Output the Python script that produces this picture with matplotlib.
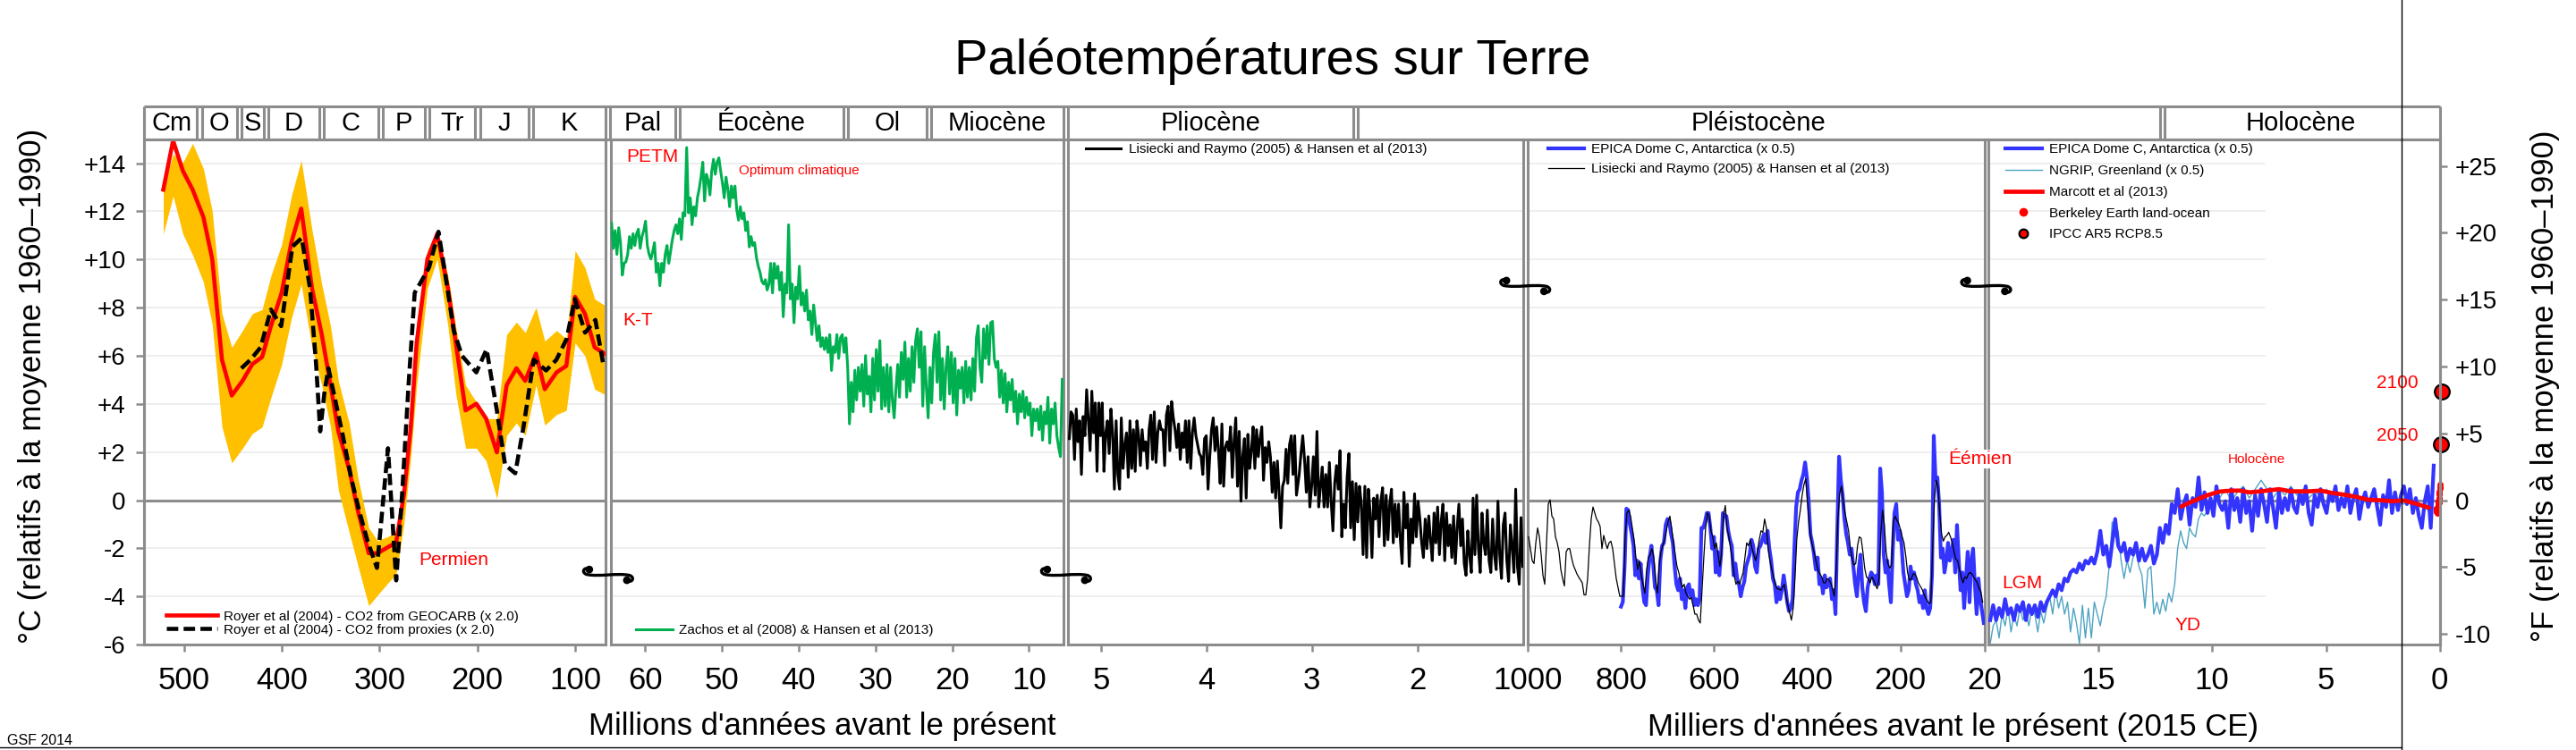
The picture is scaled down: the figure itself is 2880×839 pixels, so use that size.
import numpy as np
import matplotlib
matplotlib.use("Agg")
import matplotlib.pyplot as plt
from matplotlib.lines import Line2D
from matplotlib.path import Path
from matplotlib.patches import PathPatch, Circle
from matplotlib.transforms import Affine2D

plt.rcParams['font.family'] = ['Liberation Sans', 'DejaVu Sans']

# ---------------------------------------------------------------- data
# Panel 1 : Royer et al (2004), Ma
royer_t = [521, 511, 501, 491, 480, 471, 461, 451, 440, 430, 420, 411, 400, 390, 380, 369,
           359, 350, 342, 331, 322, 311, 302, 291, 283, 275, 268, 262, 251, 241, 230, 222,
           212, 201, 191, 180, 170, 160, 151, 140, 131, 119, 109, 100, 90, 80, 70]
royer_geocarb = [12.90, 14.94, 13.68, 12.90, 11.76, 10.02, 5.83, 4.35, 4.96, 5.65,
                 5.95, 7.23, 8.62, 10.72, 12.11, 8.80, 6.88, 4.78, 2.86, 1.29,
                 -0.45, -2.20, -2.20, -1.94, -1.76, 0.24, 3.04, 6.53, 10.02, 11.06,
                 8.80, 6.53, 3.73, 4.01, 3.39, 1.99, 4.78, 5.48, 4.96, 6.09,
                 4.61, 5.31, 5.58, 8.45, 7.75, 6.35, 6.09]
royer_hi = [12.90, 14.38, 14.03, 14.82, 13.77, 12.02, 7.75, 6.35, 7.05, 7.75,
            7.92, 9.32, 10.63, 12.64, 14.12, 11.24, 8.97, 7.23, 4.96, 3.21,
            0.94, -1.15, -1.68, -1.50, -1.33, 0.94, 3.91, 7.40, 10.37, 11.24,
            9.32, 7.23, 4.78, 4.08, 3.39, 3.39, 6.88, 7.40, 6.96, 8.01,
            6.61, 7.05, 6.70, 10.37, 9.67, 8.36, 8.10]
royer_lo = [11.06, 12.64, 11.06, 10.19, 9.06, 7.31, 3.04, 1.55, 2.16, 2.77,
            3.04, 4.26, 5.65, 7.57, 8.97, 6.35, 4.78, 3.04, 0.42, -1.33,
            -2.72, -4.38, -3.94, -3.42, -3.07, -0.98, 1.82, 4.78, 8.80, 10.02,
            7.23, 4.43, 2.16, 2.16, 1.64, 0.07, 2.69, 3.21, 2.69, 4.78,
            3.12, 3.56, 3.73, 6.53, 6.00, 4.61, 4.40]
proxy_t = [441.2, 432, 421.5, 411, 400.5, 389, 379.5, 371, 364.8, 360.6, 356.4, 352.2,
           337.5, 329, 320.7, 312.3, 302.6, 291.3, 282.9, 276.6, 270.3, 264, 257.7, 249.3,
           239.7, 232.5, 224.1, 215.7, 201, 190.5, 180, 171.6, 161.2, 152.8, 142.3, 129.7,
           119.2, 108.7, 100.3, 89.8, 79.3, 70.9]
proxy_T = [5.48, 5.83, 6.35, 7.92, 7.23, 10.54, 10.89, 8.80, 5.65, 2.86, 4.43, 5.48,
           2.69, 0.94, -0.45, -1.68, -2.81, 2.16, -3.33, 0.42, 4.78, 8.62, 9.06, 9.67,
           11.15, 9.32, 7.05, 6.00, 5.31, 6.27, 3.73, 1.47, 1.12, 3.04, 5.83, 5.39,
           5.83, 6.70, 8.36, 6.96, 7.49, 5.57]

# Panel 2 : Zachos et al (2008), readings at regular steps (Ma)
zachos_a_t = np.linspace(64.39, 34.56, 129)
zachos_a_T = [11.51, 10.46, 11.20, 10.21, 11.32, 10.70, 9.35, 9.84, 9.90, 10.21,
              10.95, 10.46, 11.07, 10.58, 11.07, 11.26, 10.46, 10.95, 11.20, 11.59,
              10.58, 10.21, 10.02, 10.33, 10.70, 9.47, 9.84, 8.91, 9.84, 9.47,
              10.21, 10.58, 9.84, 10.33, 10.83, 11.20, 11.44, 11.07, 11.69, 10.83,
              11.94, 11.81, 14.65, 11.94, 12.56, 11.44, 12.19, 11.81, 12.56, 12.93,
              13.42, 14.04, 12.43, 13.54, 13.30, 12.68, 13.67, 14.16, 13.54, 14.04,
              14.22, 13.67, 13.17, 12.56, 13.42, 12.93, 12.19, 13.05, 12.56, 13.05,
              12.06, 11.63, 12.19, 11.69, 11.94, 11.20, 11.57, 10.52, 10.95, 10.58,
              10.70, 10.09, 9.72, 9.47, 9.10, 8.98, 9.16, 8.73, 8.98, 9.84,
              8.61, 9.84, 9.22, 9.72, 8.73, 9.47, 7.62, 8.98, 8.61, 11.44,
              8.36, 8.98, 7.37, 8.85, 8.36, 9.72, 8.11, 8.61, 7.86, 8.73,
              7.49, 7.86, 6.88, 8.11, 7.37, 6.63, 7.25, 6.38, 6.75, 6.26,
              6.75, 6.14, 6.88, 5.39, 6.38, 6.14, 6.88, 5.89, 6.75]
zachos_b_t = np.linspace(34.32, 5.66, 124)
zachos_b_T = [6.88, 6.14, 6.75, 5.52, 3.17, 4.90, 3.67, 5.40, 4.16, 5.52,
              4.53, 5.64, 3.91, 6.01, 4.41, 5.15, 3.67, 5.89, 4.16, 6.26,
              4.53, 6.63, 3.79, 5.52, 3.91, 5.64, 3.67, 5.52, 4.16, 3.42,
              4.65, 5.64, 4.28, 6.14, 5.02, 6.57, 4.28, 5.89, 4.53, 6.38,
              4.90, 6.63, 7.12, 5.52, 7.00, 3.91, 6.38, 4.65, 3.42, 5.52,
              4.04, 6.14, 6.88, 4.90, 7.00, 4.16, 5.89, 3.79, 5.52, 6.38,
              4.41, 6.14, 4.04, 5.89, 3.54, 5.40, 4.65, 5.52, 4.04, 5.77,
              4.28, 5.52, 4.16, 5.89, 4.53, 6.75, 7.25, 5.52, 4.90, 7.12,
              5.89, 7.25, 5.64, 7.37, 7.43, 5.89, 5.52, 5.77, 4.28, 5.40,
              4.04, 5.27, 3.67, 4.90, 4.16, 5.02, 3.67, 4.53, 3.17, 4.41,
              3.67, 4.53, 3.42, 4.28, 3.54, 4.04, 2.68, 3.79, 3.30, 3.79,
              2.93, 3.91, 2.49, 3.67, 3.17, 4.28, 2.37, 3.79, 3.17, 4.04,
              2.68, 2.19, 1.81, 5.02]

# Panel 3 : Lisiecki & Raymo (2005), Ma
lr_a_t = np.linspace(5.30, 3.146, 132)
lr_a_T = [2.56, 3.67, 3.54, 1.69, 3.79, 2.43, 3.30, 1.07, 3.48, 2.68,
          4.59, 3.30, 2.06, 4.53, 2.80, 4.04, 1.20, 4.04, 2.68, 4.04,
          1.20, 2.80, 3.30, 1.94, 3.79, 2.80, 0.46, 3.30, 1.07, 0.46,
          3.42, 1.32, 2.31, 2.80, 0.95, 3.30, 1.32, 2.93, 1.20, 3.30,
          2.68, 1.44, 2.93, 2.06, 2.43, 1.32, 2.93, 3.54, 1.69, 3.67,
          1.57, 2.80, 3.30, 2.93, 2.93, 1.44, 3.54, 3.91, 2.06, 4.10,
          3.42, 2.93, 2.19, 3.17, 1.69, 2.80, 2.19, 3.30, 1.57, 3.30,
          1.32, 2.80, 3.42, 2.68, 2.31, 1.94, 1.81, 1.07, 2.56, 2.68,
          0.46, 1.81, 2.93, 3.42, 2.06, 3.05, 2.06, 0.70, 3.17, 0.58,
          2.19, 2.43, 2.06, 3.05, 0.95, 2.43, 3.42, 0.58, 2.86, -0.04,
          1.81, 2.56, 0.09, 2.74, 1.32, 2.06, 3.05, 1.32, 2.93, 1.81,
          2.56, 3.05, 0.83, 2.19, 1.57, 2.43, 1.81, 0.33, 1.57, 0.09,
          1.63, 0.33, -1.15, 0.58, 0.83, 2.12, 0.70, 2.31, 2.68, 1.07,
          2.68, 0.21]
lr_b_t = np.linspace(3.120, 1.000, 127)
lr_b_T = [1.07, 1.94, 2.68, 1.69, 0.33, 1.81, -0.28, 0.58, 1.81, 0.21,
          2.86, -0.28, 0.58, 1.38, -0.28, 1.07, -0.28, 1.57, -0.04, -1.27,
          0.70, 1.44, 0.46, 2.06, -1.52, -0.16, -1.15, 0.95, 1.94, -1.15,
          0.77, -1.64, 0.70, -0.90, 0.58, -0.16, -2.26, 0.58, -2.38, 0.46,
          -0.53, -2.38, 0.09, -0.78, 0.21, -1.52, -0.04, 0.52, -1.89, 0.21,
          -1.64, -0.16, 0.46, -1.77, -0.16, -1.52, -0.16, -1.64, -2.63, 0.33,
          -1.15, -0.16, -2.75, -0.78, -1.77, 0.27, -1.52, -0.04, -0.78, -1.77,
          -2.38, -0.78, -2.01, -0.65, -1.64, -2.51, -0.53, -1.77, -0.28, -2.26,
          -0.90, -0.16, -2.51, -0.53, -1.89, -1.02, -2.38, -0.65, -2.63, -1.15,
          -0.16, -1.89, -0.78, -2.63, -3.12, -1.27, -2.26, -3.00, 0.09, -2.26,
          0.21, -2.01, -3.00, -0.53, -1.77, -2.26, -0.41, -2.51, -3.00, -0.78,
          -2.26, -2.88, -0.04, -2.26, -3.25, -1.02, -0.53, -2.51, -3.37, -1.02,
          -1.89, -3.00, 0.46, -2.75, -3.49, -0.72, -2.75]

# Panel 4 : kyr before present
lr4_a_t = np.linspace(997.8, 510.7, 128)
lr4_a_T = [-1.52, -2.01, -2.51, -2.63, -1.77, -1.15, -1.52, -2.26, -3.12, -3.49,
           -1.77, -0.16, 0.02, -0.66, -0.78, -1.52, -1.77, -2.14, -2.88, -3.25,
           -3.56, -2.14, -2.01, -2.01, -2.38, -2.69, -2.88, -3.06, -3.19, -3.31,
           -3.43, -3.93, -3.93, -3.25, -1.89, -0.78, -0.28, -0.53, -0.78, -0.90,
           -1.09, -2.01, -1.46, -1.77, -2.01, -1.77, -1.70, -2.01, -2.63, -3.25,
           -3.62, -3.99, -3.99, -3.99, -1.52, -0.53, -0.41, -0.66, -1.15, -1.64,
           -2.38, -2.88, -2.51, -3.12, -3.49, -3.86, -2.88, -2.38, -2.26, -2.01,
           -2.38, -3.25, -3.86, -2.75, -2.14, -1.89, -1.64, -1.27, -0.90, -0.66,
           -1.15, -1.77, -2.26, -2.75, -3.00, -3.37, -3.62, -3.49, -3.86, -3.99,
           -4.11, -4.05, -4.36, -4.73, -4.73, -4.98, -5.10, -3.74, -2.38, -1.15,
           -0.53, -0.66, -1.27, -1.52, -2.01, -1.77, -2.26, -2.75, -2.14, -0.66,
           -0.22, -1.15, -1.52, -2.01, -2.51, -3.12, -3.49, -3.37, -3.49, -3.25,
           -3.00, -2.38, -1.77, -1.89, -1.64, -2.01, -2.26, -2.51]
lr4_b_t = np.linspace(506.85, 23.6, 127)
lr4_b_T = [-2.14, -1.64, -1.27, -1.33, -0.78, -1.15, -2.01, -2.51, -2.88, -3.19,
           -3.49, -3.68, -3.68, -3.74, -3.62, -3.49, -3.99, -4.36, -4.67, -4.98,
           -4.48, -3.25, -1.64, -0.90, -0.41, 0.21, 0.64, 0.89, -0.04, -1.03,
           -1.64, -1.95, -2.26, -2.63, -2.94, -3.06, -3.19, -3.43, -3.43, -3.25,
           -3.31, -3.43, -3.68, -3.99, -3.00, -0.78, 0.27, 0.58, -0.04, -0.53,
           -0.90, -1.27, -2.01, -2.45, -2.69, -2.63, -1.89, -1.52, -1.58, -2.14,
           -2.82, -3.19, -3.25, -3.43, -3.19, -3.31, -3.49, -3.68, -3.25, -1.40,
           -0.41, -1.03, -2.14, -2.63, -2.82, -2.69, -0.90, -0.66, -0.84, -0.96,
           -1.21, -1.52, -1.77, -2.32, -3.00, -3.31, -3.31, -3.06, -3.06, -3.19,
           -3.43, -3.56, -3.68, -3.87, -4.05, -4.17, -4.30, -4.24, -2.01, -0.04,
           0.83, 0.58, -0.53, -1.40, -1.70, -1.52, -1.46, -1.33, -1.52, -1.77,
           -2.14, -2.45, -2.51, -2.88, -3.19, -3.43, -3.19, -3.25, -3.06, -3.00,
           -3.06, -3.19, -3.31, -3.43, -3.68, -3.80, -4.24]
epica_a_t = np.linspace(799.6, 508.2, 77)
epica_a_T = [-4.42, -4.23, -2.75, -0.35, -0.41, -1.02, -1.40, -1.89, -3.12, -2.51,
             -3.25, -2.63, -3.62, -4.23, -4.36, -3.12, -2.38, -1.89, -2.63, -3.62,
             -3.74, -4.36, -2.51, -1.89, -1.77, -1.02, -0.78, -0.90, -1.40, -1.77,
             -2.75, -3.49, -3.74, -3.25, -4.11, -3.74, -4.48, -3.62, -3.49, -3.99,
             -3.74, -4.36, -4.11, -4.36, -4.11, -1.15, -1.15, -0.90, -0.53, -0.53,
             -1.15, -2.01, -1.52, -3.00, -2.14, -3.12, -2.26, -0.53, -0.66, -0.66,
             -1.27, -1.64, -1.89, -3.12, -2.63, -3.25, -3.49, -3.99, -3.62, -3.37,
             -2.75, -2.51, -2.26, -1.64, -1.89, -2.75, -3.00]
epica_b_t = np.linspace(504.3, 21.1, 127)
epica_b_T = [-2.01, -1.89, -1.64, -1.40, -1.77, -1.27, -2.01, -2.51, -3.25, -3.49,
             -4.24, -3.62, -4.11, -3.74, -3.12, -3.62, -4.24, -4.61, -4.48, -4.11,
             -2.01, -0.28, 0.33, 0.46, 0.83, 1.07, 1.57, 0.95, -0.04, -1.40,
             -1.77, -2.26, -2.88, -2.38, -3.49, -3.25, -3.87, -3.12, -3.62, -3.49,
             -3.25, -4.11, -3.74, -4.73, -1.27, 1.81, 0.83, 0.21, -0.78, -1.40,
             -1.77, -2.26, -2.01, -2.75, -3.49, -3.99, -2.88, -2.26, -3.62, -4.24,
             -4.61, -3.62, -3.25, -3.00, -3.12, -3.49, -3.12, -3.49, 1.32, 0.33,
             -2.26, -3.00, -2.51, -3.49, -4.24, -2.14, -0.53, -0.16, -1.64, -1.27,
             -1.89, -3.00, -3.49, -3.99, -3.74, -2.75, -3.25, -3.00, -3.49, -3.74,
             -4.24, -3.99, -4.48, -3.74, -4.48, -4.73, -4.48, -3.12, 2.68, 0.83,
             0.95, -0.16, -2.38, -2.01, -3.00, -2.51, -1.77, -2.51, -2.14, -1.64,
             -3.00, -1.03, -2.51, -3.74, -3.00, -4.48, -3.25, -2.14, -4.24, -2.51,
             -2.01, -3.49, -4.73, -3.25, -4.11, -4.61, -5.10]

# Panel 5 : kyr before present (2015 CE)
epica5_t = np.linspace(19.75, 0.27, 150)
epica5_T = [-4.98, -4.36, -4.98, -4.48, -4.85, -4.11, -4.73, -4.48, -4.98, -4.36,
            -4.61, -4.23, -4.98, -4.36, -4.73, -4.36, -4.85, -4.23, -4.61, -4.23,
            -3.99, -3.74, -3.99, -3.49, -3.74, -3.25, -3.37, -3.00, -2.88, -3.00,
            -2.63, -2.88, -2.51, -2.63, -2.38, -2.63, -2.14, -1.27, -2.26, -1.89,
            -2.75, -1.77, -0.78, -1.89, -2.14, -1.77, -2.51, -2.01, -2.26, -1.77,
            -2.51, -2.01, -2.51, -2.26, -1.89, -2.63, -2.26, -1.15, -1.77, -1.02,
            -1.40, -0.16, -0.53, 0.46, -0.78, -0.16, 0.21, -1.02, 0.09, -0.28,
            0.95, -0.41, 0.33, -0.53, 0.09, -0.65, 0.58, -0.16, -0.41, -0.04,
            -1.15, 0.46, -0.41, 0.09, -0.90, 0.46, -0.53, -0.04, -1.27, 0.21,
            -0.65, 0.46, -0.16, -0.90, 0.46, -0.28, -1.15, 0.33, -0.53, 0.09,
            -0.41, 0.46, -0.28, -0.53, 0.33, -0.16, 0.58, -0.53, -1.02, 0.21,
            -0.28, 0.46, -0.16, -0.53, 0.33, -0.04, 0.58, -0.41, 0.09, -0.28,
            0.58, -0.53, 0.09, 0.46, -0.78, -0.04, 0.33, -0.28, 0.09, 0.46,
            -0.28, -1.02, 0.21, -0.28, 0.83, -0.53, 0.33, -0.41, 0.21, 0.58,
            -0.16, 0.46, -0.53, 0.09, -0.65, -1.15, -0.04, 0.58, -1.15, 1.44]
ngrip_a_t = np.linspace(19.75, 10.21, 74)
ngrip_a_T = [-5.96, -5.22, -4.98, -5.72, -4.73, -5.22, -4.48, -5.47, -4.73, -5.22,
             -4.48, -4.98, -4.61, -5.22, -4.48, -4.73, -5.47, -4.61, -5.10, -4.48,
             -3.99, -4.73, -3.74, -4.48, -3.99, -4.73, -4.23, -5.47, -4.48, -5.10,
             -5.96, -4.36, -5.72, -4.48, -5.72, -4.23, -4.73, -5.22, -4.48, -3.99,
             -2.75, -0.90, -1.52, -1.27, -2.51, -3.25, -2.51, -3.00, -2.38, -2.14,
             -2.75, -3.12, -4.48, -2.88, -2.75, -4.73, -4.23, -4.73, -4.11, -4.61,
             -3.86, -4.23, -3.49, -2.01, -1.27, -1.77, -2.01, -1.15, -1.40, -1.52,
             -0.78, -0.53, -0.65, -0.41]
ngrip_b_t = np.linspace(9.94, 0.53, 37)
ngrip_b_T = [-0.16, 0.09, 0.46, -0.04, 0.33, 0.58, 0.09, 0.46, 0.83, 0.46,
             0.09, 0.46, 0.21, 0.58, 0.21, 0.46, 0.09, 0.33, 0.21, 0.46,
             0.09, 0.33, -0.04, 0.21, 0.09, -0.16, 0.09, -0.04, -0.16, 0.09,
             -0.16, -0.04, -0.16, 0.09, -0.28, -0.16, -0.41]
marcott_t = [11.36, 10.99, 10.60, 10.21, 9.68, 9.16, 8.77, 8.38, 7.85, 7.07, 6.55, 5.76,
             5.24, 4.72, 4.19, 3.67, 3.15, 2.62, 2.10, 1.58, 1.06, 0.66, 0.47]
marcott_T = [-0.26, -0.10, 0.06, 0.21, 0.36, 0.40, 0.40, 0.33, 0.37, 0.46, 0.37, 0.37,
             0.40, 0.30, 0.23, 0.14, 0.02, 0.00, -0.04, -0.01, -0.14, -0.26, -0.31]
berkeley_year = [1850, 1855, 1860, 1865, 1870, 1875, 1880, 1885, 1890, 1895, 1900, 1905,
                 1910, 1915, 1920, 1925, 1930, 1935, 1940, 1945, 1950, 1955, 1960, 1965,
                 1970, 1975, 1980, 1985, 1990, 1995, 2000, 2005, 2010, 2015]
berkeley_T = [-0.45, -0.40, -0.45, -0.35, -0.35, -0.40, -0.35, -0.45, -0.50, -0.40,
              -0.30, -0.45, -0.55, -0.35, -0.35, -0.30, -0.25, -0.25, -0.05, -0.05,
              -0.20, -0.15, -0.05, -0.10, -0.05, -0.10, 0.10, 0.05, 0.25, 0.30,
              0.35, 0.50, 0.55, 0.65]
ipcc_year = [2050, 2100]
ipcc_T = [2.34, 4.52]
ipcc_labels = ['2050', '2100']

# geological header
era_names = ['Cm', 'O', 'S', 'D', 'C', 'P', 'Tr', 'J', 'K', 'Pal', 'Éocène', 'Ol',
             'Miocène', 'Pliocène', 'Pléistocène', 'Holocène']
era_bounds_ma = [541, 484, 443.7, 416, 359.2, 299, 251, 199.6, 145.5, 65.5, 55.8, 33.9,
                 23.03, 5.332, 2.588, 0.0122, 0]

ticks = [[500, 400, 300, 200, 100], [60, 50, 40, 30, 20, 10], [5, 4, 3, 2],
         [1000, 800, 600, 400, 200, 20], [15, 10, 5, 0]]
yticks_c = [-6, -4, -2, 0, 2, 4, 6, 8, 10, 12, 14]
yticks_f = [-10, -5, 0, 5, 10, 15, 20, 25]

# ---------------------------------------------------------------- layout
W, H, DPI = 2880, 839, 100
fig = plt.figure(figsize=(W / DPI, H / DPI), dpi=DPI)
PLOT_TOP, PLOT_BOT, HEAD_TOP = 155.6, 721.2, 118.9
panels_px = [(160.7, 676.9), (682.8, 1189.4), (1194.3, 1702.5), (1707.9, 2218.5), (2222.5, 2727.8)]
xlims = [(541, 69), (64.5, 5.45), (5.31, 1.0), (1000, 20), (19.85, 0)]
units = [1, 1, 1, 1000, 1000]          # Ma -> panel unit
GRAY = '#8c8c8c'
GRID = '#ebebeb'
RED = '#ff0000'
BLUE = '#3434ff'
GREEN = '#00b050'
ORANGE = '#ffc000'
TEAL = '#4ea3c2'

axes = []
for i, ((l, r), xl) in enumerate(zip(panels_px, xlims)):
    ax = fig.add_axes([l / W, 1 - PLOT_BOT / H, (r - l) / W, (PLOT_BOT - PLOT_TOP) / H])
    ax.set_facecolor('none')
    ax.set_xlim(*xl)
    ax.set_ylim(-6, 15)
    for s in ax.spines.values():
        s.set_color(GRAY)
        s.set_linewidth(2.2)
    ax.set_xticks(ticks[i])
    ax.set_xticklabels([str(v) for v in ticks[i]])
    ax.tick_params(axis='x', direction='out', length=6, width=1.8, color=GRAY,
                   labelsize=25, pad=11)
    ax.set_yticks([])
    xmax = 0.6125 if i == 4 else 1.0
    for g in yticks_c:
        if g not in (0, -6):
            ax.axhline(g, color=GRID, lw=1.2, zorder=0, xmax=xmax)
    ax.axhline(0, color=GRAY, lw=2.2, zorder=1)
    axes.append(ax)
ax1, ax2, ax3, ax4, ax5 = axes

ax1.set_yticks(yticks_c)
ax1.set_yticklabels([('+%d' % v) if v > 0 else str(v) for v in yticks_c])
ax1.tick_params(axis='y', direction='out', length=6.5, width=1.8, color=GRAY,
                labelsize=20, pad=8)

axr = ax5.twinx()
axr.set_facecolor('none')
axr.set_ylim(-6 * 1.8, 15 * 1.8)
axr.set_yticks(yticks_f)
axr.set_yticklabels([('+%d' % v) if v > 0 else str(v) for v in yticks_f])
axr.tick_params(axis='y', direction='out', length=6, width=1.8, color=GRAY,
                labelsize=20, pad=6)
for s in ('left', 'top', 'bottom'):
    axr.spines[s].set_visible(False)
axr.spines['right'].set_color(GRAY)
axr.spines['right'].set_linewidth(2.2)

# ---------------------------------------------------------------- series
ax1.fill_between(royer_t, royer_lo, royer_hi, color=ORANGE, lw=0, zorder=2)
ax1.plot(royer_t, royer_geocarb, color=RED, lw=3.3, zorder=3, solid_joinstyle='round')
ax1.plot(proxy_t, proxy_T, color='black', lw=3.3, dashes=(2.8, 1.3), zorder=4)

ax2.plot(np.concatenate([zachos_a_t, zachos_b_t]), zachos_a_T + zachos_b_T,
         color=GREEN, lw=2.2, zorder=3)
ax3.plot(np.concatenate([lr_a_t, lr_b_t]), lr_a_T + lr_b_T, color='black', lw=2.2, zorder=3)

ax4.plot(np.concatenate([epica_a_t, epica_b_t]), epica_a_T + epica_b_T,
         color=BLUE, lw=3.0, zorder=3)
ax4.plot(np.concatenate([lr4_a_t, lr4_b_t]), lr4_a_T + lr4_b_T, color='black', lw=0.9, zorder=4)

ax5.plot(np.concatenate([ngrip_a_t, ngrip_b_t]), ngrip_a_T + ngrip_b_T,
         color=TEAL, lw=1.0, zorder=2)
ax5.plot(epica5_t, epica5_T, color=BLUE, lw=3.0, zorder=3)
ax5.plot(marcott_t, marcott_T, color=RED, lw=3.4, zorder=4, solid_capstyle='round')
berk_kyr = [(2015 - y) / 1000 for y in berkeley_year]
ax5.plot(berk_kyr, berkeley_T, 'o', color=RED, ms=5, mec='none', zorder=5, clip_on=False)
ipcc_kyr = [(2015 - y) / 1000 for y in ipcc_year]
ax5.plot(ipcc_kyr, ipcc_T, 'o', color=RED, ms=12, mec='black', mew=1.6, zorder=6,
         clip_on=False)
for lab, T in zip(ipcc_labels, ipcc_T):
    ax5.text(1.86, T + 0.35, lab, color=RED, fontsize=15, ha='center', va='center')

# ---------------------------------------------------------------- annotations
ann = dict(color=RED, fontsize=15, ha='left', va='baseline', zorder=8)
ax2.text(62.45, 14.04, 'PETM', **ann)
ax2.text(62.98, 7.26, 'K-T', **ann)
ax2.text(47.83, 13.54, 'Optimum climatique', color=RED, fontsize=11, ha='left', va='baseline')
ax1.text(259.6, -2.69, 'Permien', **ann)
ax5.text(19.25, -3.67, 'LGM', **ann)
ax5.text(11.63, -5.41, 'YD', **ann)
ax5.text(9.32, 1.56, 'Holocène', color=RED, fontsize=11, ha='left', va='baseline')
# 'Éémien' straddles the panel gap: place it at figure level, above both panels' spines
ex, ey = ax4.transData.transform((96.8, 1.51))
fig.text(ex / W, ey / H, 'Éémien', color=RED, fontsize=15, ha='left', va='baseline',
         zorder=20, bbox=dict(facecolor='white', edgecolor='none', pad=0.5))

# ---------------------------------------------------------------- legends
def add_legend(ax, handles, labels, x, y, hl, tp, sp):
    lg = ax.legend(handles, labels, loc='upper left', bbox_to_anchor=(x, y), frameon=False,
                   fontsize=11, handlelength=hl, handletextpad=tp, labelspacing=sp,
                   borderpad=0, borderaxespad=0)
    lg.set_zorder(10)

add_legend(ax1, [Line2D([], [], color=RED, lw=3.3),
                 Line2D([], [], color='black', lw=3.3, dashes=(2.8, 1.3))],
           ['Royer et al (2004) - CO2 from GEOCARB (x 2.0)',
            'Royer et al (2004) - CO2 from proxies (x 2.0)'],
           0.049, 0.0684, 3.73, 0.46, 0.07)
add_legend(ax2, [Line2D([], [], color=GREEN, lw=2.2)],
           ['Zachos et al (2008) & Hansen et al (2013)'], 0.0557, 0.041, 2.68, 0.43, 0.1)
add_legend(ax3, [Line2D([], [], color='black', lw=2.2)],
           ['Lisiecki and Raymo (2005) & Hansen et al (2013)'], 0.0386, 0.9917, 2.57, 0.58, 0.1)
add_legend(ax4, [Line2D([], [], color=BLUE, lw=3.0), Line2D([], [], color='black', lw=0.9)],
           ['EPICA Dome C, Antarctica (x 0.5)',
            'Lisiecki and Raymo (2005) & Hansen et al (2013)'], 0.0452, 0.9917, 2.62, 0.52, 0.53)
add_legend(ax5, [Line2D([], [], color=BLUE, lw=3.0), Line2D([], [], color=TEAL, lw=1.0),
                 Line2D([], [], color=RED, lw=3.4),
                 Line2D([], [], ls='none', marker='o', color=RED, mec='none', ms=7),
                 Line2D([], [], ls='none', marker='o', color=RED, mec='black', mew=1.6, ms=7)],
           ['EPICA Dome C, Antarctica (x 0.5)', 'NGRIP, Greenland (x 0.5)',
            'Marcott et al (2013)', 'Berkeley Earth land-ocean', 'IPCC AR5 RCP8.5'],
           0.0386, 0.9917, 2.68, 0.52, 0.64)

# ---------------------------------------------------------------- header
hax = fig.add_axes([0, 1 - PLOT_TOP / H, 1, (PLOT_TOP - HEAD_TOP) / H])
hax.set_xlim(0, W)
hax.set_ylim(0, 1)
hax.axis('off')


def age_px(age):
    for ax, u in zip(axes, units):
        a, b = ax.get_xlim()
        v = age * u
        if b - 1e-9 <= v <= a + 1e-9:
            return ax.transData.transform((v, 0))[0]
    for k in range(len(axes) - 1):
        r_edge = axes[k].get_xlim()[1] / units[k]
        l_edge = axes[k + 1].get_xlim()[0] / units[k + 1]
        if l_edge < age < r_edge:
            return 0.5 * (panels_px[k][1] + panels_px[k + 1][0])
    return None


bx = [age_px(a) for a in era_bounds_ma]
hkw = dict(color=GRAY, lw=2.2, clip_on=False, solid_capstyle='butt')
hax.plot([bx[0], bx[-1]], [1, 1], **hkw)
hax.plot([bx[0], bx[-1]], [0, 0], **hkw)
hax.plot([bx[0], bx[0]], [0, 1], **hkw)
hax.plot([bx[-1], bx[-1]], [0, 1], **hkw)
for b in bx[1:-1]:
    hax.plot([b - 2.6, b - 2.6], [0, 1], **hkw)
    hax.plot([b + 2.6, b + 2.6], [0, 1], **hkw)
for name, l, r in zip(era_names, bx[:-1], bx[1:]):
    hax.text(0.5 * (l + r), 0.48, name, fontsize=21, ha='center', va='center')

# ---------------------------------------------------------------- texts & decorations
fig.text(1423 / W, 1 - 83 / H, 'Paléotempératures sur Terre', fontsize=40.5,
         ha='center', va='baseline')
fig.text(37 / W, 1 - 432 / H, '°C (relatifs à la moyenne 1960–1990)', fontsize=25,
         rotation=90, ha='center', va='center')
fig.text(2845 / W, 1 - 432 / H, '°F (relatifs à la moyenne 1960–1990)', fontsize=25,
         rotation=90, ha='center', va='center')
fig.text(919.6 / W, 1 - 822 / H, "Millions d'années avant le présent", fontsize=25,
         ha='center', va='baseline')
fig.text(2183 / W, 1 - 823 / H, "Milliers d'années avant le présent (2015 CE)", fontsize=25,
         ha='center', va='baseline')
fig.text(8.3 / W, 1 - 833 / H, 'GSF 2014', fontsize=11.5, ha='left', va='baseline')

# axis-break swash symbols between panels (drawn in pixel units around the gap centre)
brk_verts = [(-21, 6), (-26, 10), (-31, 3), (-24, 0.5),
             (-10, -2.5), (10, 2.5), (24, -0.5),
             (31, -3), (26, -10), (21, -6)]
brk_codes = [Path.MOVETO, Path.CURVE4, Path.CURVE4, Path.CURVE4,
             Path.CURVE4, Path.CURVE4, Path.CURVE4,
             Path.CURVE4, Path.CURVE4, Path.CURVE4]
brk_path = Path(brk_verts, brk_codes)
for k, Tb in ((0, -3.1), (1, -3.1), (2, 8.9), (3, 8.9)):
    xc = 0.5 * (panels_px[k][1] + panels_px[k + 1][0])
    yc = axes[k].transData.transform((axes[k].get_xlim()[1], Tb))[1]
    tr = Affine2D().translate(xc, yc)
    fig.add_artist(PathPatch(brk_path, transform=tr, fill=False, lw=2.4,
                             edgecolor='black', capstyle='round'))
    fig.add_artist(Circle((-21, 6), 3.6, transform=tr, color='black'))
    fig.add_artist(Circle((21, -6), 3.6, transform=tr, color='black'))

fig.add_artist(Line2D([2685.3 / W, 2685.3 / W], [0, 1], color='black', lw=1.0))
fig.add_artist(Line2D([0, 2685.3 / W], [1 - 835.5 / H, 1 - 835.5 / H], color='black', lw=1.0))

fig.savefig('out.png', dpi=DPI)
